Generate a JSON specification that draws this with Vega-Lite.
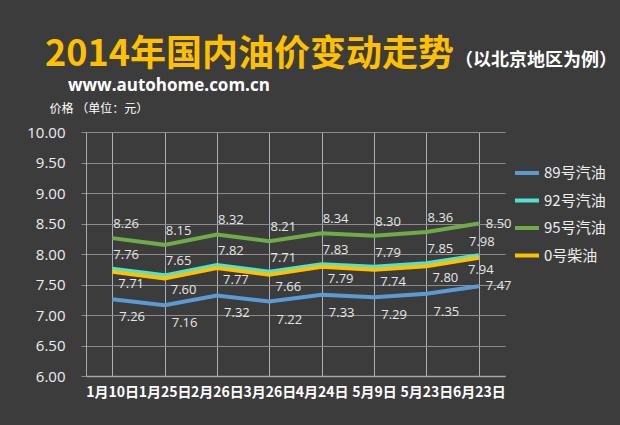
{
  "$schema": "https://vega.github.io/schema/vega-lite/v6.json",
  "width": 419,
  "height": 244,
  "autosize": {"type": "none"},
  "padding": {"left": 86, "top": 132, "right": 115, "bottom": 49},
  "background": "#3c3c3c",
  "title": {
    "text": "2014年国内油价变动走势",
    "anchor": "start",
    "frame": "group",
    "dx": -41,
    "offset": -22,
    "font": "Noto Sans CJK SC",
    "fontSize": 36,
    "fontWeight": "bold",
    "color": "#FFC000"
  },
  "config": {
    "view": {"stroke": null},
    "font": "Noto Sans CJK SC"
  },
  "data": {
    "values": [
      {"date": "1月10日", "series": "89号汽油", "price": 7.26},
      {"date": "1月25日", "series": "89号汽油", "price": 7.16},
      {"date": "2月26日", "series": "89号汽油", "price": 7.32},
      {"date": "3月26日", "series": "89号汽油", "price": 7.22},
      {"date": "4月24日", "series": "89号汽油", "price": 7.33},
      {"date": "5月9日", "series": "89号汽油", "price": 7.29},
      {"date": "5月23日", "series": "89号汽油", "price": 7.35},
      {"date": "6月23日", "series": "89号汽油", "price": 7.47},
      {"date": "1月10日", "series": "92号汽油", "price": 7.76},
      {"date": "1月25日", "series": "92号汽油", "price": 7.65},
      {"date": "2月26日", "series": "92号汽油", "price": 7.82},
      {"date": "3月26日", "series": "92号汽油", "price": 7.71},
      {"date": "4月24日", "series": "92号汽油", "price": 7.83},
      {"date": "5月9日", "series": "92号汽油", "price": 7.79},
      {"date": "5月23日", "series": "92号汽油", "price": 7.85},
      {"date": "6月23日", "series": "92号汽油", "price": 7.98},
      {"date": "1月10日", "series": "95号汽油", "price": 8.26},
      {"date": "1月25日", "series": "95号汽油", "price": 8.15},
      {"date": "2月26日", "series": "95号汽油", "price": 8.32},
      {"date": "3月26日", "series": "95号汽油", "price": 8.21},
      {"date": "4月24日", "series": "95号汽油", "price": 8.34},
      {"date": "5月9日", "series": "95号汽油", "price": 8.30},
      {"date": "5月23日", "series": "95号汽油", "price": 8.36},
      {"date": "6月23日", "series": "95号汽油", "price": 8.50},
      {"date": "1月10日", "series": "0号柴油", "price": 7.71},
      {"date": "1月25日", "series": "0号柴油", "price": 7.60},
      {"date": "2月26日", "series": "0号柴油", "price": 7.77},
      {"date": "3月26日", "series": "0号柴油", "price": 7.66},
      {"date": "4月24日", "series": "0号柴油", "price": 7.79},
      {"date": "5月9日", "series": "0号柴油", "price": 7.74},
      {"date": "5月23日", "series": "0号柴油", "price": 7.80},
      {"date": "6月23日", "series": "0号柴油", "price": 7.94}
    ]
  },
  "encoding": {
    "x": {
      "field": "date",
      "type": "ordinal",
      "sort": null,
      "scale": {"type": "point", "padding": 0.5},
      "axis": {
        "title": null,
        "labelAngle": 0,
        "labelFont": "Noto Sans CJK SC",
        "labelFontSize": 14,
        "labelFontWeight": "bold",
        "labelColor": "#ffffff",
        "labelPadding": 9,
        "ticks": false,
        "grid": true,
        "gridColor": "#a9b0ba",
        "gridWidth": 1,
        "domainColor": "#a8a8a8",
        "domainWidth": 1.5
      }
    },
    "y": {
      "field": "price",
      "type": "quantitative",
      "scale": {"domain": [6, 10], "nice": false, "zero": false},
      "axis": {
        "values": [6, 6.5, 7, 7.5, 8, 8.5, 9, 9.5, 10],
        "format": ".2f",
        "title": "价格 （单位：元）",
        "titleAngle": 0,
        "titleX": -37,
        "titleY": -24,
        "titleAlign": "left",
        "titleBaseline": "middle",
        "titleFont": "Noto Sans CJK SC",
        "titleFontSize": 12,
        "titleFontWeight": "normal",
        "titleColor": "#ffffff",
        "labelFont": "Open Sans",
        "labelFontSize": 15,
        "labelColor": "#eeeeee",
        "labelPadding": 16,
        "tickSize": 5,
        "tickColor": "#8c8c8c",
        "grid": true,
        "gridColor": "#8c8c8c",
        "gridWidth": 1,
        "domainColor": "#a8a8a8"
      }
    }
  },
  "layer": [
    {
      "mark": {"type": "line", "strokeWidth": 4},
      "encoding": {
        "color": {
          "field": "series",
          "type": "nominal",
          "scale": {
            "domain": ["89号汽油", "92号汽油", "95号汽油", "0号柴油"],
            "range": ["#5B9BD5", "#4DE3D0", "#6FAC46", "#FFC000"]
          },
          "legend": {
            "title": null,
            "orient": "none",
            "legendX": 427,
            "legendY": 27,
            "symbolType": "stroke",
            "symbolSize": 576,
            "symbolStrokeWidth": 4,
            "labelFont": "Noto Sans CJK SC",
            "labelFontSize": 15,
            "labelColor": "#eeeeee",
            "labelOffset": 3,
            "rowPadding": 5.5,
            "padding": 0
          }
        }
      }
    },
    {
      "transform": [{"filter": "(datum.series === '95号汽油' || datum.series === '92号汽油') && datum.date !== '6月23日'"}],
      "mark": {"type": "text", "dx": 14, "dy": -14, "baseline": "middle", "font": "Open Sans", "fontSize": 13, "color": "#e6e6e6"},
      "encoding": {"text": {"field": "price", "type": "quantitative", "format": ".2f"}}
    },
    {
      "transform": [{"filter": "datum.series === '92号汽油' && datum.date === '6月23日'"}],
      "mark": {"type": "text", "dx": 3, "dy": -13, "baseline": "middle", "font": "Open Sans", "fontSize": 13, "color": "#e6e6e6"},
      "encoding": {"text": {"field": "price", "type": "quantitative", "format": ".2f"}}
    },
    {
      "transform": [{"filter": "datum.series === '0号柴油' && datum.date !== '6月23日'"}],
      "mark": {"type": "text", "dx": 19, "dy": 12, "baseline": "middle", "font": "Open Sans", "fontSize": 13, "color": "#e6e6e6"},
      "encoding": {"text": {"field": "price", "type": "quantitative", "format": ".2f"}}
    },
    {
      "transform": [{"filter": "datum.series === '0号柴油' && datum.date === '6月23日'"}],
      "mark": {"type": "text", "dx": 2, "dy": 12, "baseline": "middle", "font": "Open Sans", "fontSize": 13, "color": "#e6e6e6"},
      "encoding": {"text": {"field": "price", "type": "quantitative", "format": ".2f"}}
    },
    {
      "transform": [{"filter": "datum.series === '89号汽油' && datum.date !== '6月23日'"}],
      "mark": {"type": "text", "dx": 20, "dy": 18, "baseline": "middle", "font": "Open Sans", "fontSize": 13, "color": "#e6e6e6"},
      "encoding": {"text": {"field": "price", "type": "quantitative", "format": ".2f"}}
    },
    {
      "transform": [{"filter": "(datum.series === '95号汽油' || datum.series === '89号汽油') && datum.date === '6月23日'"}],
      "mark": {"type": "text", "align": "left", "dx": 7, "dy": 0, "baseline": "middle", "font": "Open Sans", "fontSize": 13, "color": "#e6e6e6"},
      "encoding": {"text": {"field": "price", "type": "quantitative", "format": ".2f"}}
    },
    {
      "data": {"values": [{"note": "（以北京地区为例）"}]},
      "mark": {"type": "text", "align": "left", "baseline": "middle", "font": "Noto Sans CJK SC", "fontSize": 18, "fontWeight": "bold", "color": "#ffffff"},
      "encoding": {"x": {"value": 369}, "y": {"value": -71}, "text": {"field": "note"}}
    },
    {
      "data": {"values": [{"site": "www.autohome.com.cn"}]},
      "mark": {"type": "text", "align": "left", "baseline": "middle", "font": "Open Sans", "fontSize": 17, "fontWeight": "bold", "color": "#ffffff"},
      "encoding": {"x": {"value": -18}, "y": {"value": -46}, "text": {"field": "site"}}
    }
  ]
}
